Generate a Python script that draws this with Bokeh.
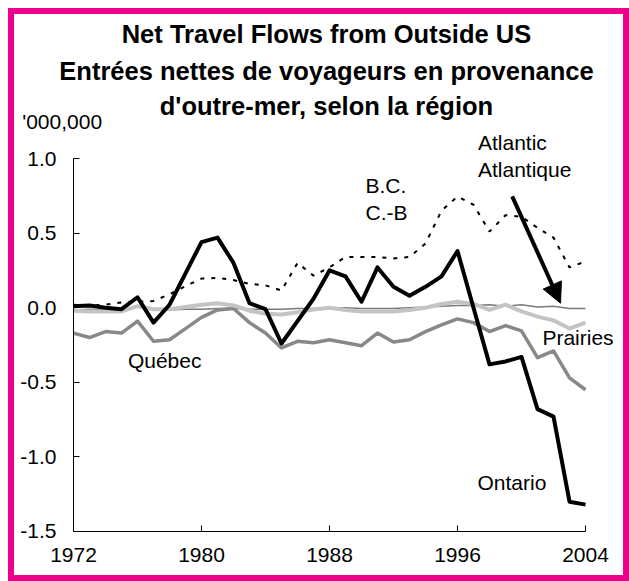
from bokeh.plotting import figure
from bokeh.models import (Label, Arrow, NormalHead, FixedTicker,
                          PrintfTickFormatter, Range1d)
from bokeh.embed import file_html
from bokeh.resources import INLINE

years = list(range(1972, 2005))

ontario = [0.01, 0.015, 0.0, -0.01, 0.07, -0.10, 0.02, 0.23, 0.44, 0.47, 0.30,
           0.03, -0.01, -0.24, -0.09, 0.06, 0.25, 0.21, 0.04, 0.27, 0.14, 0.08,
           0.14, 0.21, 0.38, 0.0, -0.38, -0.36, -0.33, -0.68, -0.73, -1.30, -1.32]

bc = [0.02, 0.015, 0.02, 0.035, 0.04, 0.045, 0.09, 0.145, 0.195, 0.20, 0.185,
      0.16, 0.15, 0.115, 0.30, 0.215, 0.27, 0.34, 0.34, 0.34, 0.33, 0.34,
      0.43, 0.65, 0.745, 0.69, 0.51, 0.62, 0.61, 0.535, 0.47, 0.27, 0.31]

quebec = [-0.17, -0.20, -0.16, -0.17, -0.09, -0.225, -0.215, -0.14, -0.065,
          -0.015, -0.005, -0.10, -0.17, -0.27, -0.225, -0.235, -0.215, -0.235,
          -0.255, -0.17, -0.23, -0.215, -0.16, -0.115, -0.075, -0.10, -0.16,
          -0.12, -0.155, -0.335, -0.29, -0.47, -0.55]

prairies = [-0.02, -0.025, -0.025, -0.025, 0.01, -0.01, -0.01, 0.005, 0.02,
            0.03, 0.015, -0.02, -0.04, -0.045, -0.03, -0.012, 0.0, -0.015,
            -0.025, -0.025, -0.025, -0.015, 0.0, 0.025, 0.04, 0.025, -0.015,
            0.02, -0.025, -0.06, -0.085, -0.14, -0.10]

atlantic = [-0.015, -0.01, -0.015, -0.015, 0.01, -0.01, -0.015, -0.01, -0.01,
            -0.005, -0.005, -0.01, -0.01, -0.01, -0.005, -0.005, -0.005, 0.0,
            -0.005, -0.005, -0.005, 0.0, 0.005, 0.01, 0.015, 0.015, 0.02, 0.01,
            0.02, 0.005, 0.01, -0.005, -0.005]

x_ticks = [1972, 1980, 1988, 1996, 2004]
y_ticks = [-1.5, -1.0, -0.5, 0.0, 0.5, 1.0]

title_lines = ["Net Travel Flows from Outside US",
               "Entrées nettes de voyageurs en provenance",
               "d'outre-mer, selon la région"]
unit_label = "'000,000"

FONT = "Liberation Sans"
W, H = 621, 573

# the frame fills the canvas; the axes are pinned at the data edges
p = figure(width=W, height=H, output_backend="svg", toolbar_location=None,
           title=None,
           x_range=Range1d(1967.9375, 2006.75),
           y_range=Range1d(-1.835121, 2.005362),
           min_border_left=0, min_border_right=0,
           min_border_top=0, min_border_bottom=0,
           styles={"margin-left": "8px", "margin-top": "8px",
                   "outline": "6px solid #EC008C", "outline-offset": "-6px"})

p.background_fill_color = None
p.border_fill_color = None
p.outline_line_color = None
p.xgrid.visible = False
p.ygrid.visible = False

for ax in (p.xaxis[0], p.yaxis[0]):
    ax.axis_line_color = "black"
    ax.axis_line_width = 1
    ax.major_tick_line_color = "black"
    ax.major_tick_in = 6
    ax.major_tick_out = 0
    ax.minor_tick_line_color = None
    ax.major_label_text_font = FONT
    ax.major_label_text_font_size = "21px"
    ax.major_label_text_color = "black"

p.xaxis.ticker = FixedTicker(ticks=x_ticks)
p.yaxis.ticker = FixedTicker(ticks=y_ticks)
p.yaxis.formatter = PrintfTickFormatter(format="%.1f")
p.xaxis.bounds = (x_ticks[0], x_ticks[-1])
p.yaxis.bounds = (y_ticks[0], y_ticks[-1])
p.xaxis.fixed_location = y_ticks[0]
p.yaxis.fixed_location = x_ticks[0]
p.xaxis.major_label_standoff = 17
p.yaxis.major_label_standoff = 17

p.line(years, atlantic, line_color="#7a7a7a", line_width=1.5)
p.line(years, quebec, line_color="#888888", line_width=3.5, line_join="round")
p.line(years, prairies, line_color="#c4c4c4", line_width=4, line_join="round")
p.line(years, bc, line_color="black", line_width=2, line_dash="4 7")
p.line(years, ontario, line_color="black", line_width=4, line_join="round")


def add_label(x, y, text, size="21px", bold=False, align="center"):
    p.add_layout(Label(x=x, y=y, text=text,
                       text_font=FONT, text_font_size=size,
                       text_font_style="bold" if bold else "normal",
                       text_align=align, text_baseline="middle",
                       text_color="black"))


for yy, t in zip([1.8344, 1.5898, 1.3552], title_lines):
    add_label(1987.81, yy, t, size="25.5px", bold=True)
add_label(1968.79, 1.248, unit_label, align="left")

add_label(1997.28, 1.107, "Atlantic", align="left")
add_label(1997.28, 0.923, "Atlantique", align="left")
add_label(1990.25, 0.82, "B.C.", align="left")
add_label(1990.25, 0.64, "C.-B", align="left")
add_label(2003.53, -0.203, "Prairies")
add_label(1977.7, -0.352, "Québec")
add_label(1999.4, -1.171, "Ontario")

p.add_layout(Arrow(end=NormalHead(size=20, fill_color="black", line_color="black"),
                   x_start=1999.42, y_start=0.746, x_end=2002.44, y_end=0.03,
                   line_color="black", line_width=4))

open("out.html", "w").write(file_html(p, INLINE))
